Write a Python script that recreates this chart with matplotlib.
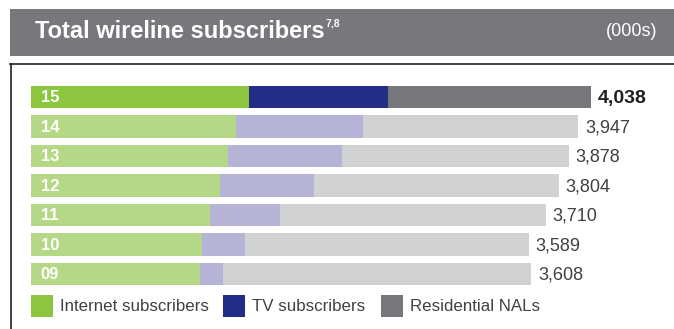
import matplotlib
matplotlib.use("Agg")
import matplotlib.pyplot as plt
from matplotlib.patches import Rectangle

plt.rcParams['font.family'] = ['Liberation Sans', 'DejaVu Sans']

# Subscriber counts (000s), newest year first
years = ['15', '14', '13', '12', '11', '10', '09']
internet = [1572, 1478, 1420, 1363, 1291, 1233, 1218]
tv = [1002, 916, 822, 677, 504, 310, 166]
totals = [4038, 3947, 3878, 3804, 3710, 3589, 3608]
nals = [t - i - v for t, i, v in zip(totals, internet, tv)]
total_labels = ['4,038', '3,947', '3,878', '3,804', '3,710', '3,589', '3,608']

series_names = ['Internet subscribers', 'TV subscribers', 'Residential NALs']
dark = ['#8cc63f', '#242d85', '#77787b']
light = ['#b5d886', '#b5b4d6', '#d1d2d4']

W, H = 674, 329
fig = plt.figure(figsize=(W / 100, H / 100), dpi=100)

# pixel-space overlay for the header band and frame
deco = fig.add_axes([0, 0, 1, 1])
deco.set_xlim(0, W)
deco.set_ylim(H, 0)
deco.axis('off')
deco.add_patch(Rectangle((10, 9), W - 10, 47, color='#77787b', lw=0))
deco.plot([10.5, 10.5], [64, H], color='#231f20', lw=1.2)
deco.plot([10, W], [64, 64], color='#231f20', lw=1.2)

title = deco.text(35, 31, 'Total wireline subscribers', color='white',
                  fontsize=17, fontweight='bold', va='center', ha='left')
fig.canvas.draw()
bb = title.get_window_extent().transformed(deco.transData.inverted())
deco.text(bb.x1 + 1, 23, '7,8', color='white', fontsize=7.5,
          fontweight='bold', va='center', ha='left')
deco.text(657, 32, '(000s)', color='white', fontsize=13, va='center',
          ha='right')

# legend swatches
legend_x = [31, 223, 381]
for x, name, c in zip(legend_x, series_names, dark):
    deco.add_patch(Rectangle((x, 295), 22, 22, color=c, lw=0))
    deco.text(x + 29, 306.5, name, color='#414042', fontsize=12.2,
              va='center', ha='left')

# bar chart axes
left_px, right_px = 31, W
top_px, bot_px = 82.25, 288.75
ax = fig.add_axes([left_px / W, 1 - bot_px / H, (right_px - left_px) / W,
                   (bot_px - top_px) / H])
ax.set_xlim(0, 4038 * (right_px - left_px) / 560)
ax.set_ylim(len(years) - 0.5, -0.5)
ax.axis('off')

y = list(range(len(years)))
for i in y:
    cols = dark if i == 0 else light
    ax.barh(i, internet[i], height=0.746, color=cols[0], lw=0)
    ax.barh(i, tv[i], left=internet[i], height=0.746, color=cols[1], lw=0)
    ax.barh(i, nals[i], left=internet[i] + tv[i], height=0.746,
            color=cols[2], lw=0)
    ax.text(70, i + 0.02, years[i], color='white', fontsize=12,
            fontweight='bold', va='center', ha='left')
    ax.text(totals[i] + 50, i + 0.05, total_labels[i],
            color='#231f20' if i == 0 else '#414042',
            fontsize=14 if i == 0 else 13,
            fontweight='bold' if i == 0 else 'normal', va='center',
            ha='left')

fig.savefig('out.png', dpi=100)
